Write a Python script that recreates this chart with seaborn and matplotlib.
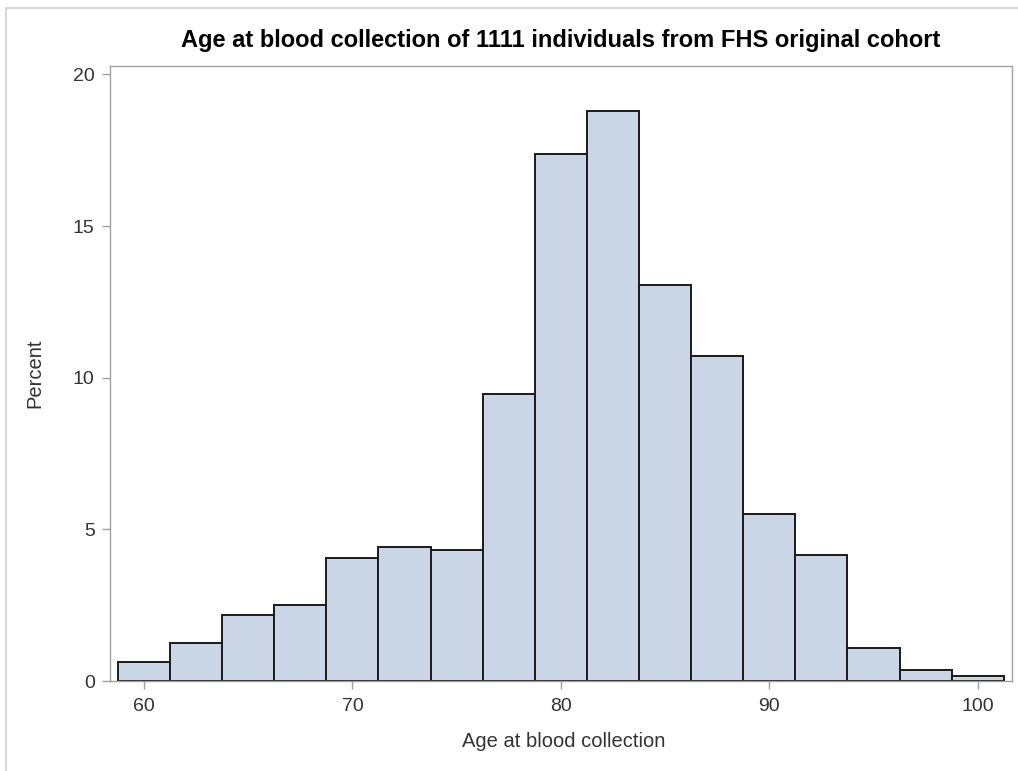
import numpy as np
import pandas as pd
import seaborn as sns
import matplotlib
matplotlib.use("Agg")
import matplotlib.pyplot as plt
from matplotlib.lines import Line2D

# Data: bin centers (age) and counts out of 1111 individuals
bin_centers = [60, 62.5, 65, 67.5, 70, 72.5, 75, 77.5, 80, 82.5, 85, 87.5, 90, 92.5, 95, 97.5, 100]
counts = [7, 14, 24, 28, 45, 49, 48, 105, 193, 209, 145, 119, 61, 46, 12, 4, 2]
x_ticks = [60, 70, 80, 90, 100]
y_ticks = [0, 5, 10, 15, 20]

title = "Age at blood collection of 1111 individuals from FHS original cohort"
xlabel = "Age at blood collection"
ylabel = "Percent"

df = pd.DataFrame({"age": bin_centers, "n": counts})
bin_width = 2.5
edges = list(np.arange(bin_centers[0] - bin_width / 2, bin_centers[-1] + bin_width, bin_width))

sns.set_theme(style="white")
plt.rcParams["font.family"] = ["Liberation Sans", "DejaVu Sans"]

W, H = 1018, 771
fig = plt.figure(figsize=(W / 100, H / 100), dpi=100)
ax_l, ax_r, ax_t, ax_b = 110, 1011.5, 66, 681
ax = fig.add_axes([ax_l / W, 1 - ax_b / H, (ax_r - ax_l) / W, (ax_b - ax_t) / H])

sns.histplot(data=df, x="age", weights="n", bins=edges, stat="percent",
             color="#CAD5E5", edgecolor="#1a1a1a", linewidth=1.4, alpha=1.0, ax=ax)

ax.set_xlim(58.37, 101.62)
ax.set_ylim(0, 20.28)
ax.set_xticks(x_ticks)
ax.set_yticks(y_ticks)
ax.tick_params(axis="both", length=6, width=1, color="#a0a0a0", labelsize=14,
               labelcolor="#333333", direction="out", bottom=True, left=True)
ax.tick_params(axis="x", pad=6.5)
ax.tick_params(axis="y", pad=5)
for s in ax.spines.values():
    s.set_color("#a0a0a0")
    s.set_linewidth(1)

ax.set_xlabel(xlabel, fontsize=14.5, color="#333333", va="baseline")
ax.xaxis.set_label_coords((564 - ax_l) / (ax_r - ax_l), (ax_b - 747) / (ax_b - ax_t))
ax.set_ylabel(ylabel, fontsize=14.5, color="#333333", va="center")
ax.yaxis.set_label_coords((35 - ax_l) / (ax_r - ax_l), 0.5)

fig.text(560.5 / W, 1 - 47 / H, title, ha="center", va="baseline",
         fontsize=17, fontweight="bold", color="#000000")

# light gray outer frame lines (top and left)
fig.add_artist(Line2D([6 / W, 1], [1 - 8 / H, 1 - 8 / H], color="#d8d8d8", lw=1.5))
fig.add_artist(Line2D([6 / W, 6 / W], [0, 1 - 8 / H], color="#d8d8d8", lw=1.5))

fig.savefig("out.png", dpi=100, facecolor="white")
